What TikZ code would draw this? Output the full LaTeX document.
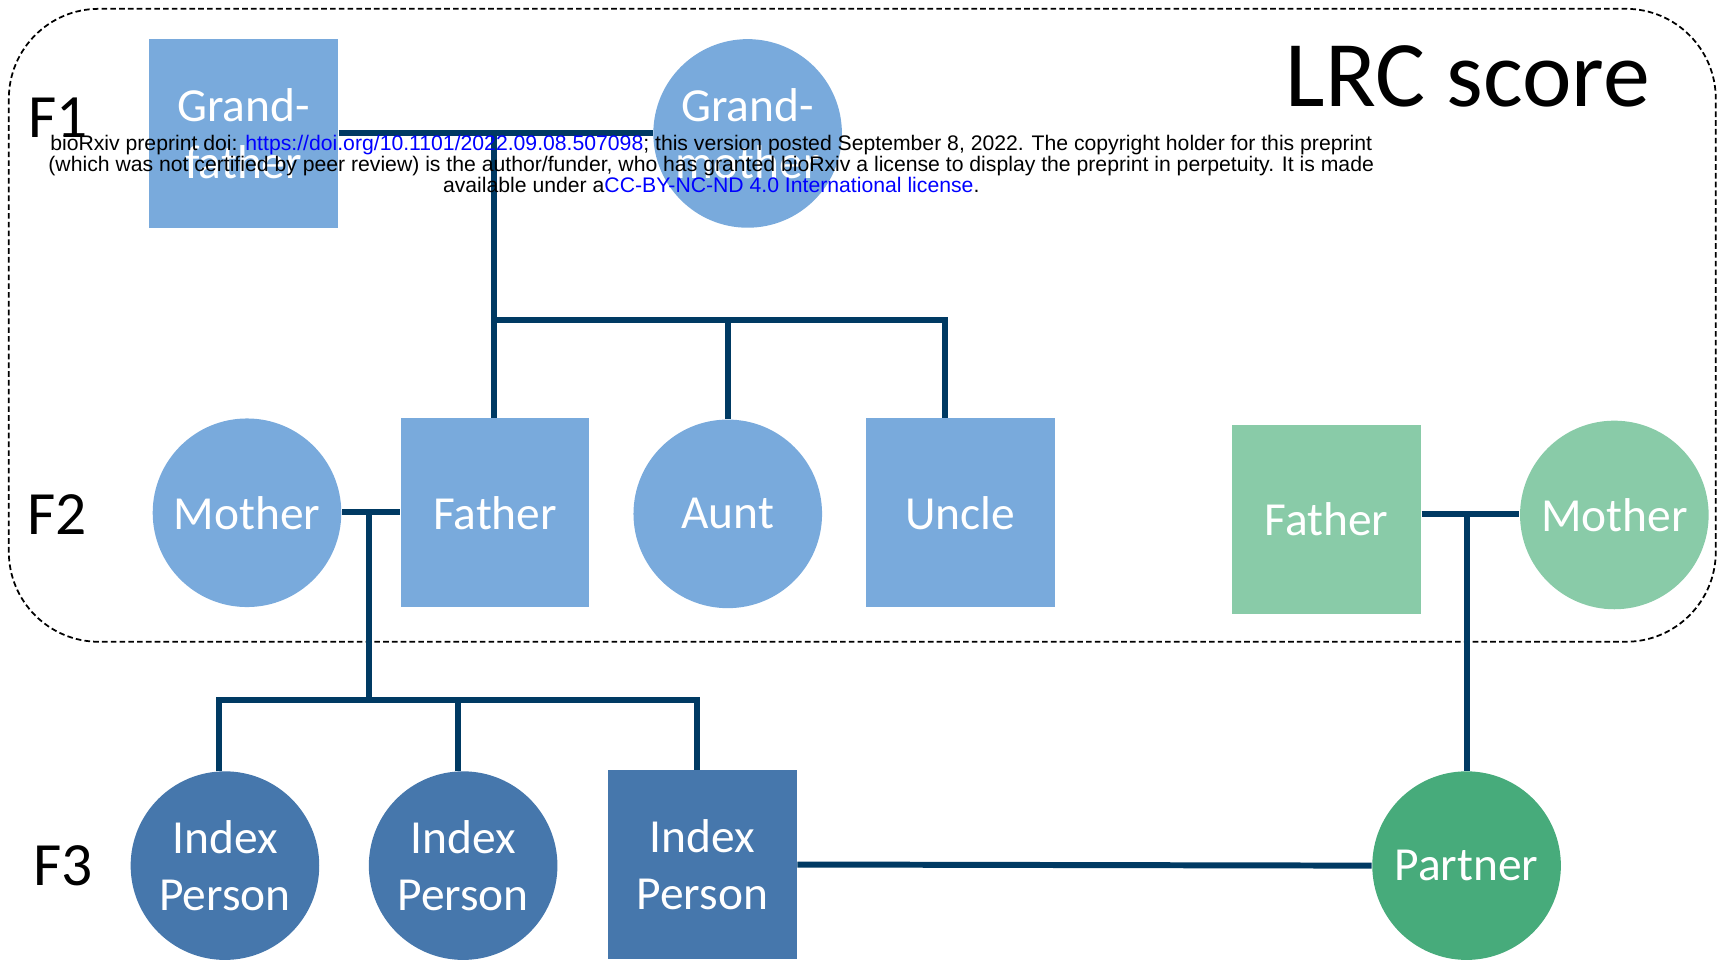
\documentclass[tikz,border=0pt]{standalone}
\usepackage{fontspec}
\setmainfont{Carlito}
\newfontfamily\preprintfont{Liberation Sans}
\usepackage{graphicx}
\usepackage{xcolor}
\usepackage{tikz}
\usetikzlibrary{positioning,calc}
\definecolor{lblue}{RGB}{121,170,220}
\definecolor{dblue}{RGB}{70,119,172}
\definecolor{lgreen}{RGB}{137,203,168}
\definecolor{dgreen}{RGB}{71,171,123}
\definecolor{navy}{RGB}{0,58,99}
\newcommand\nodefont{\fontsize{13.5}{16.2}\selectfont}
\newcommand\cond[1]{\scalebox{1.005}[1]{#1}}

\begin{document}
\begin{tikzpicture}[x=0.11027mm,y=-0.11027mm,
        sq/.style={rectangle,fill=#1,minimum size=18.86mm,inner sep=0pt,
                   text=white,align=center,font=\nodefont},
        rd/.style={circle,fill=#1,minimum size=18.86mm,inner sep=0pt,
                   text=white,align=center,font=\nodefont},
        link/.style={draw=navy,line width=1.7pt},
        gen/.style={anchor=base,font=\fontsize{17.5}{20}\selectfont}]
        \useasboundingbox (0,0) rectangle (1568,872);
        \draw[line width=0.5pt,dash pattern=on 1.6pt off 0.9pt,rounded corners=9mm]
          (8,8) rectangle (1556,582);
        % generations F1, F2
        \node[sq=lblue] (gf) at (221,121) {Grand-\\father};
        \node[rd=lblue] (gm) at (678,121) {Grand-\\mother};
        \node[rd=lblue] (mo) at (224,465) {Mother};
        \node[sq=lblue] (fa) at (449,465) {Father};
        \node[rd=lblue] (au) at (660,466) {Aunt};
        \node[sq=lblue] (un) at (871,465) {Uncle};
        % partner's parents
        \node[sq=lgreen] (pf) at (1203,471) {Father};
        \node[rd=lgreen] (pm) at (1464,467) {Mother};
        % F3
        \foreach \i/\x in {1/204,2/420}{
          \node[rd=dblue] (ix\i) at (\x,785) {Index\\Person};
        }
        \node[sq=dblue] (ix3) at (637,784) {Index\\Person};
        \node[rd=dgreen] (pa) at (1330,785) {Partner};
        \coordinate (c1) at (448,121);
        \coordinate (s1) at (448,290);
        \coordinate (c2) at (335,464);
        \coordinate (s2) at (335,635);
        \coordinate (c3) at (1330,466);
        \draw[link] (gf.east) -- (gm.west);
        \draw[link] (c1) -- (c1 |- fa.north);
        \draw[link] (au.north) |- (s1);
        \draw[link] ($(un.north)+(-14,0)$) |- (s1);
        \draw[link] (mo.east |- c2) -- (fa.west |- c2);
        \draw[link] (c2) -- (s2);
        \foreach \i in {1,2,3}
          \draw[link] ($(ix\i.north)+(-5,0)$) |- (s2);
        \draw[link] (pf.east |- c3) -- (pm.west |- c3);
        \draw[link] (c3) -- (pa.north);
        \draw[link] (ix3.east) -- (pa.west);
        \foreach \g/\x/\y in {1/53/125,2/52/485,3/57/803}
          \node[gen] (f\g) at (\x,\y) {F\g};
        \node[anchor=base,font=\fontsize{26.7}{30}\selectfont] (lrc) at (1331,97) {LRC score};
        \node[align=center,inner sep=0pt,font=\preprintfont\fontsize{6}{5.96}\selectfont] (pp) at (645,149)
          {\cond{bioRxiv preprint doi: \textcolor{blue}{https://doi.org/10.1101/2022.09.08.507098}; this version posted September 8, 2022. The copyright holder for this preprint}\\
           \cond{(which was not certified by peer review) is the author/funder, who has granted bioRxiv a license to display the preprint in perpetuity. It is made}\\
           \cond{available under a\textcolor{blue}{CC-BY-NC-ND 4.0 International license}.}};
      \end{tikzpicture}
\end{document}
